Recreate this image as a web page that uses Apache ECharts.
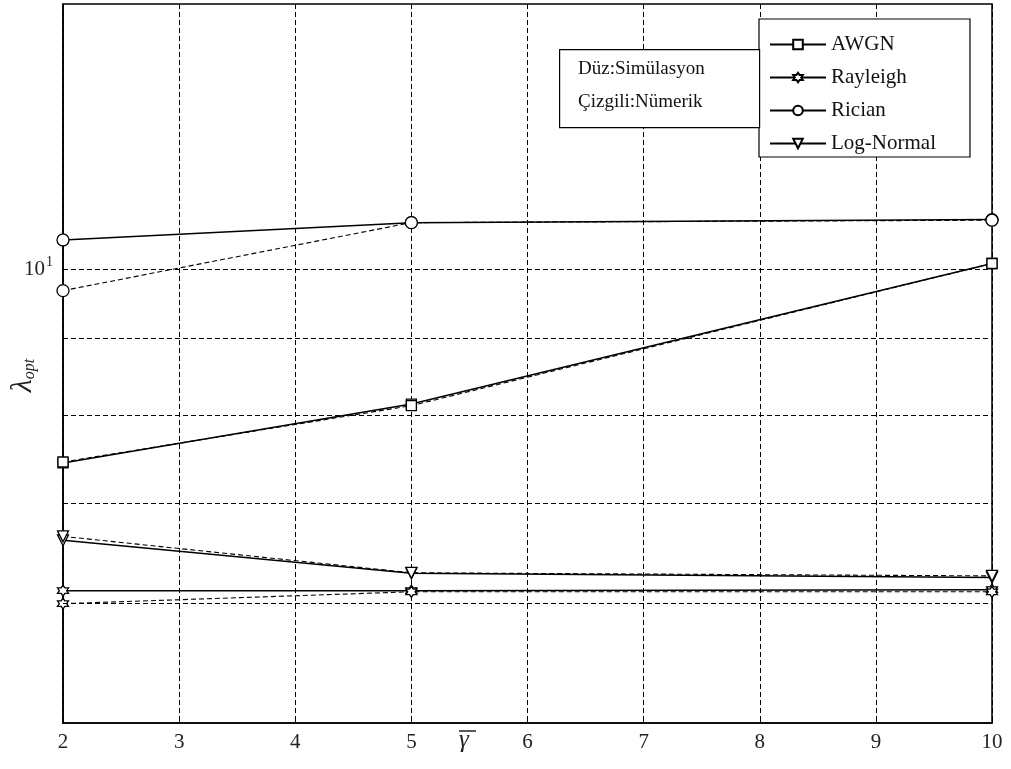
<!DOCTYPE html>
<html>
<head>
<meta charset="utf-8">
<script src="https://cdn.jsdelivr.net/npm/echarts@6/dist/echarts.min.js"></script>
<style>
  html, body { margin: 0; padding: 0; background: #fff; }
  #chart { width: 1011px; height: 769px; }
</style>
</head>
<body>
<div id="chart"></div>
<script>
// x values (gamma bar) and lambda_opt
const gammaX = [2, 5, 10];
const awgnSim = [7.44, 8.14, 10.09];
const awgnNum = [7.45, 8.12, 10.09];
const rayleighSim = [6.12, 6.12, 6.13];
const rayleighNum = [6.0, 6.11, 6.11];
const ricianSim = [10.46, 10.74, 10.79];
const ricianNum = [9.68, 10.74, 10.78];
const lognormSim = [6.61, 6.285, 6.245];
const lognormNum = [6.65, 6.29, 6.26];
const gridY = [6, 7, 8, 9, 10];
const legendNames = ['AWGN', 'Rayleigh', 'Rician', 'Log-Normal'];

const serif = '"Liberation Serif", "DejaVu Serif", serif';
const hexagram = 'path://M0,-10L2.9,-5L8.66,-5L5.8,0L8.66,5L2.9,5L0,10L-2.9,5L-8.66,5L-5.8,0L-8.66,-5L-2.9,-5Z';

function pairs(ys) {
  return gammaX.map((x, i) => [x, ys[i]]);
}

function mk(name, ys, dashed, symbol, size, rotate) {
  return {
    name: name,
    type: 'line',
    data: pairs(ys),
    symbol: symbol,
    symbolSize: size,
    symbolRotate: rotate || 0,
    showAllSymbol: true,
    lineStyle: { color: '#000', width: dashed ? 1.1 : 1.5, type: dashed ? [5, 3] : 'solid' },
    itemStyle: { color: '#fff', borderColor: '#000', borderWidth: 1.3 },
    emphasis: { disabled: true },
    silent: true
  };
}

const series = [
  mk('AWGN', awgnSim, false, 'rect', 10),
  mk('Rayleigh', rayleighSim, false, hexagram, 11),
  mk('Rician', ricianSim, false, 'circle', 12),
  mk('Log-Normal', lognormSim, false, 'triangle', 11, 180),
  mk('AWGN num', awgnNum, true, 'rect', 10),
  mk('Rayleigh num', rayleighNum, true, hexagram, 11),
  mk('Rician num', ricianNum, true, 'circle', 12),
  mk('Log-Normal num', lognormNum, true, 'triangle', 11, 180)
];

// horizontal grid lines at the log minor positions
series[0].markLine = {
  silent: true,
  symbol: ['none', 'none'],
  label: { show: false },
  lineStyle: { color: '#000', width: 1, type: [5, 3] },
  data: gridY.map(v => ({ yAxis: v }))
};

var myChart = echarts.init(document.getElementById('chart'));
myChart.setOption({
  animation: false,
  backgroundColor: '#fff',
  grid: {
    left: 63, right: 19, top: 4, bottom: 46,
    outerBoundsMode: 'none',
    containLabel: false,
    show: true, borderColor: '#000', borderWidth: 1.5
  },
  legend: {
    data: legendNames,
    orient: 'vertical',
    left: 759, top: 19,
    padding: [15, 34, 3, 10],
    itemGap: 12,
    itemWidth: 56, itemHeight: 12,
    backgroundColor: '#fff',
    borderColor: '#000', borderWidth: 1.2,
    borderRadius: 0,
    selectedMode: false,
    textStyle: { fontFamily: serif, fontSize: 21, color: '#111' }
  },
  graphic: [
    {
      type: 'rect', left: 559, top: 49, z: 50,
      shape: { width: 200, height: 78 },
      style: { fill: '#fff', stroke: '#000', lineWidth: 1.2 }
    },
    {
      type: 'text', left: 578, top: 60, z: 51,
      style: { text: 'Düz:Simülasyon', font: '19px ' + serif, fill: '#111' }
    },
    {
      type: 'text', left: 578, top: 93, z: 51,
      style: { text: 'Çizgili:Nümerik', font: '19px ' + serif, fill: '#111' }
    },
    {
      type: 'text', left: 459, top: 728, z: 51,
      style: { text: 'γ', font: 'italic 25px ' + serif, fill: '#222' }
    },
    {
      type: 'line', z: 51,
      shape: { x1: 459, y1: 731, x2: 476, y2: 731 },
      style: { stroke: '#222', lineWidth: 1.5 }
    }
  ],
  xAxis: {
    type: 'value',
    min: 2, max: 10, interval: 1,
    axisLine: { show: true, lineStyle: { color: '#000', width: 1.5 } },
    axisTick: { show: true, inside: true, length: 6, lineStyle: { color: '#000' } },
    axisLabel: { fontFamily: serif, fontSize: 21, color: '#222', margin: 9 },
    splitLine: { show: true, lineStyle: { color: '#000', width: 1, type: [5, 3] } }
  },
  yAxis: {
    type: 'log',
    logBase: 10,
    min: 5, max: 15,
    axisLine: { show: true, lineStyle: { color: '#000', width: 1.5 } },
    axisTick: { show: false },
    splitLine: { show: false },
    minorSplitLine: { show: false },
    name: '{l|λ}{s|opt}',
    nameLocation: 'middle',
    nameRotate: 90,
    nameGap: 25,
    nameMoveOverlap: false,
    nameTextStyle: {
      padding: [0, 24, 0, 0],
      rich: {
        l: { fontFamily: serif, fontStyle: 'italic', fontSize: 30, color: '#222' },
        s: { fontFamily: serif, fontStyle: 'italic', fontSize: 16, color: '#222', padding: [14, 0, 0, 0] }
      }
    },
    axisLabel: {
      margin: 10,
      formatter: function (v) {
        return Math.abs(v - 10) < 1e-6 ? '{a|10}{b|1}' : '';
      },
      rich: {
        a: { fontFamily: serif, fontSize: 21, color: '#222' },
        b: { fontFamily: serif, fontSize: 14, color: '#222', padding: [0, 0, 14, 1] }
      }
    }
  },
  series: series
});
</script>
</body>
</html>
